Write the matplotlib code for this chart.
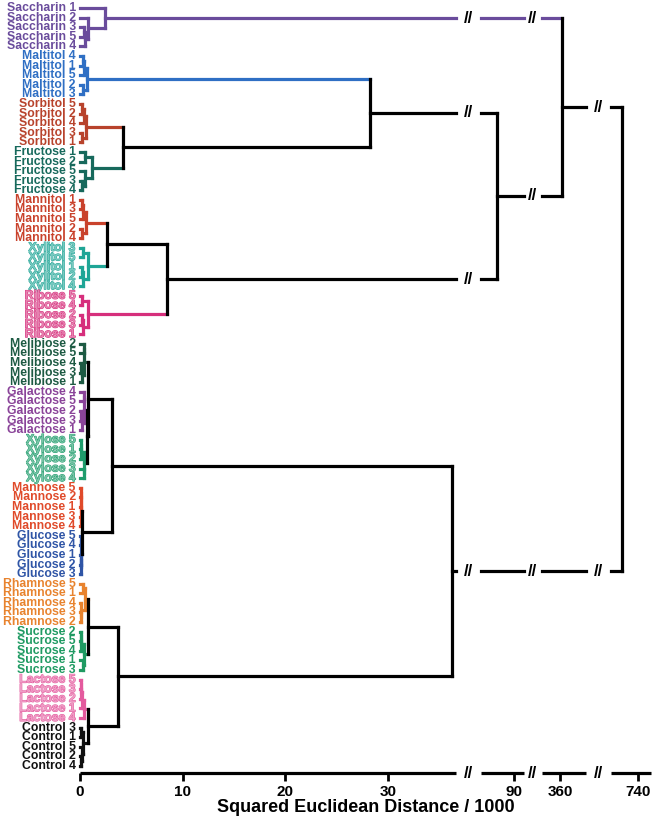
import numpy as np
import matplotlib
matplotlib.use("Agg")
import matplotlib.pyplot as plt
from matplotlib import patheffects as pe

plt.rcParams['font.family'] = ['Liberation Sans', 'DejaVu Sans']

# ---------------- data ----------------
groups = ['Saccharin', 'Maltitol', 'Sorbitol', 'Fructose', 'Mannitol', 'Xylitol',
          'Ribose', 'Melibiose', 'Galactose', 'Xylose', 'Mannose', 'Glucose',
          'Rhamnose', 'Sucrose', 'Lactose', 'Control']
group_colors = ['#6a4c9c', '#2f6fc4', '#b8432c', '#17695c', '#c9422c', '#1fa596',
                '#d62f7c', '#1d5a43', '#8a4499', '#1f9c6c', '#e04a2a', '#2f55a6',
                '#e8832e', '#1f9a62', '#e45a9e', '#111111']
label_styles = ['solid', 'solid', 'solid', 'solid', 'solid', 'outline',
                'outline', 'solid', 'solid', 'outline', 'solid', 'solid',
                'solid', 'solid', 'outline', 'solid']
# replicate numbers in display order (top to bottom)
replicate_order = [[1, 2, 3, 5, 4], [4, 1, 5, 2, 3], [5, 2, 4, 3, 1], [1, 2, 5, 3, 4],
                   [1, 3, 5, 2, 4], [3, 5, 1, 2, 4], [5, 4, 2, 3, 1], [2, 5, 4, 3, 1],
                   [4, 5, 2, 3, 1], [5, 1, 2, 3, 4], [5, 2, 1, 3, 4], [5, 4, 1, 2, 3],
                   [5, 1, 4, 3, 2], [2, 5, 4, 1, 3], [5, 3, 2, 1, 4], [3, 1, 5, 2, 4]]
# within-group clustering: (left, right, distance/1000), leaves = local positions 0-4
group_trees = [
    (0, (1, ((2, 3, 0.4), 4, 0.5), 0.8), 2.45),          # Saccharin
    (((0, 1, 0.3), 2, 0.4), (3, 4, 0.3), 0.7),           # Maltitol
    (((0, 1, 0.2), 2, 0.4), (3, 4, 0.2), 0.55),          # Sorbitol
    ((0, 1, 0.5), (2, (3, 4, 0.2), 0.5), 1.2),           # Fructose
    (((0, 1, 0.2), 2, 0.3), (3, 4, 0.2), 0.6),           # Mannitol
    ((0, 1, 0.3), ((2, 3, 0.2), 4, 0.3), 0.8),           # Xylitol
    ((0, 1, 0.2), ((2, 3, 0.2), 4, 0.3), 0.8),           # Ribose
    ((0, 1, 0.35), ((2, 3, 0.1), 4, 0.15), 0.4),         # Melibiose
    ((0, 1, 0.35), ((2, 3, 0.1), 4, 0.15), 0.4),         # Galactose
    (((0, 1, 0.05), 2, 0.1), (3, 4, 0.35), 0.4),         # Xylose
    (((0, 1, 0.05), 2, 0.08), (3, 4, 0.05), 0.1),        # Mannose
    ((0, 1, 0.05), ((2, 3, 0.05), 4, 0.08), 0.1),        # Glucose
    ((0, 1, 0.3), (2, (3, 4, 0.05), 0.1), 0.5),          # Rhamnose
    (((0, 1, 0.05), 2, 0.1), (3, 4, 0.3), 0.4),          # Sucrose
    ((((0, 1, 0.05), 2, 0.1), 3, 0.15), 4, 0.4),         # Lactose
    ((0, 1, 0.1), (2, (3, 4, 0.05), 0.15), 0.3),         # Control
]
# between-group merges: (new cluster, left, right, distance/1000)
cluster_merges = [
    ('SF', 'Sorbitol', 'Fructose', 4.2),
    ('MSF', 'Maltitol', 'SF', 28.2),
    ('MX', 'Mannitol', 'Xylitol', 2.6),
    ('MXR', 'MX', 'Ribose', 8.45),
    ('TOP', 'MSF', 'MXR', 87.4),
    ('STOP', 'Saccharin', 'TOP', 362.0),
    ('GX', 'Galactose', 'Xylose', 0.7),
    ('MGX', 'Melibiose', 'GX', 0.8),
    ('MG', 'Mannose', 'Glucose', 0.2),
    ('U', 'MGX', 'MG', 3.1),
    ('RS', 'Rhamnose', 'Sucrose', 0.78),
    ('LC', 'Lactose', 'Control', 0.75),
    ('L', 'RS', 'LC', 3.7),
    ('BOT', 'U', 'L', 36.2),
    ('ALL', 'STOP', 'BOT', 724.0),
]
tick_values = [0, 10, 20, 30, 90, 360, 740]
# broken axis: visible value ranges
axis_segments = [(0, 36.6), (84.9, 91.5), (342, 386), (713, 753)]

# ---------------- broken-axis scale ----------------
seg_pos = [(80, 456), (481, 523.7), (542, 586), (611, 651)]
_vals = np.array([v for s in axis_segments for v in s], float)
_pos = np.array([p for s in seg_pos for p in s], float)

def fwd(x):
    return np.interp(x, _vals, _pos) + \
        np.where(np.asarray(x) < 0, np.asarray(x) * 10.28, 0)

def inv(p):
    return np.interp(p, _pos, _vals)

LW = 2.3
fig = plt.figure(figsize=(6.57, 8.25), dpi=100)
ax = fig.add_axes([80 / 657, 52 / 825, 571 / 657, 773 / 825])
ax.set_xscale('function', functions=(fwd, inv))
ax.set_xlim(0, 753)
ax.set_ylim(79 + 7 / 9.6, -8 / 9.6)

gaps = [(axis_segments[i][1], axis_segments[i + 1][0]) for i in range(len(axis_segments) - 1)]
gap_marks = [inv((seg_pos[i][1] + seg_pos[i + 1][0]) / 2) for i in range(len(seg_pos) - 1)]

def hline(y, x0, x1, color):
    pieces = [[x0, x1]]
    marks = []
    for (g0, g1), gm in zip(gaps, gap_marks):
        new = []
        for a, b in pieces:
            if a < g0 and b > g1:
                new += [[a, g0], [g1, b]]
                marks.append(gm)
            else:
                new.append([a, b])
        pieces = new
    for a, b in pieces:
        ax.plot([a, b], [y, y], color=color, lw=LW, solid_capstyle='projecting', clip_on=False)
    for m in marks:
        ax.text(m, y, '//', ha='center', va='center', fontsize=12, fontweight='bold',
                color='black', clip_on=False)

def vline(x, y0, y1, color):
    ax.plot([x, x], [y0, y1], color=color, lw=LW, solid_capstyle='projecting', clip_on=False)

def draw_local(tree, base, color):
    """returns (y, height) for a local tree"""
    if isinstance(tree, int):
        return base + tree, 0.0
    left, right, h = tree
    yl, hl = draw_local(left, base, color)
    yr, hr = draw_local(right, base, color)
    hline(yl, hl, h, color)
    hline(yr, hr, h, color)
    vline(h, yl, yr, color)
    return (yl + yr) / 2, h

nodes = {}
for gi, (g, tree) in enumerate(zip(groups, group_trees)):
    y, h = draw_local(tree, gi * 5, group_colors[gi])
    nodes[g] = (y, h, group_colors[gi])

for name, left, right, h in cluster_merges:
    yl, hl, cl = nodes[left]
    yr, hr, cr = nodes[right]
    hline(yl, hl, h, cl)
    hline(yr, hr, h, cr)
    vline(h, yl, yr, 'black')
    nodes[name] = ((yl + yr) / 2, h, 'black')

# leaf labels
def lighten(c, f):
    rgb = np.array(matplotlib.colors.to_rgb(c))
    return tuple(rgb + (1 - rgb) * f)

for gi, g in enumerate(groups):
    for k, rep in enumerate(replicate_order[gi]):
        y = gi * 5 + k
        kw = dict(xy=(0, y), xytext=(-3, 0), textcoords='offset points', ha='right',
                  va='center', fontsize=8.8, fontweight='bold', annotation_clip=False)
        if label_styles[gi] == 'outline':
            t = ax.annotate(f'{g} {rep}', color=lighten(group_colors[gi], 0.4), **kw)
            t.set_path_effects([pe.withStroke(linewidth=0.7, foreground=group_colors[gi])])
        else:
            ax.annotate(f'{g} {rep}', color=group_colors[gi], **kw)

# axis
for sp in ax.spines.values():
    sp.set_visible(False)
ax.set_yticks([])
for a, b in axis_segments:
    ax.plot([a, b], [0, 0], color='black', lw=LW, transform=ax.get_xaxis_transform(),
            solid_capstyle='butt', clip_on=False)
for m in gap_marks:
    ax.text(m, 0, '//', ha='center', va='center', fontsize=12, fontweight='bold',
            transform=ax.get_xaxis_transform(), clip_on=False)
ax.set_xticks(tick_values)
ax.set_xticklabels([str(t) for t in tick_values], fontsize=11, fontweight='bold')
ax.tick_params(axis='x', direction='out', length=6, width=2, pad=3)
ax.minorticks_off()
ax.set_xlabel('Squared Euclidean Distance / 1000', fontsize=13, fontweight='bold', labelpad=0)

fig.savefig('out.png', dpi=100)
